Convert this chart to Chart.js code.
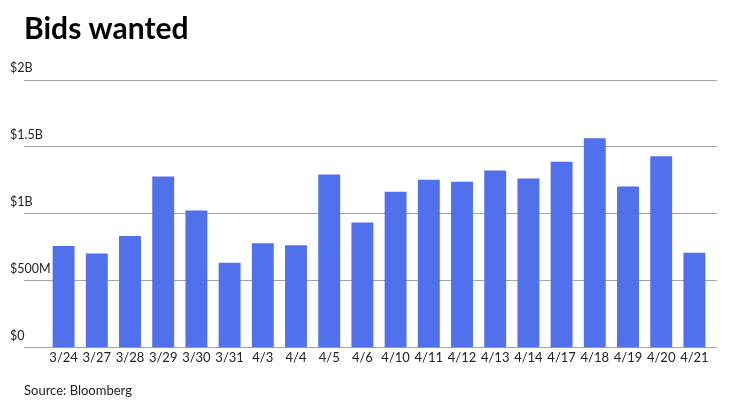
<!DOCTYPE html>
<html>
<head>
<meta charset="utf-8">
<script src="https://cdn.jsdelivr.net/npm/chart.js@4"></script>
<style>
  body { margin: 0; background: #fff; }
</style>
</head>
<body>
<canvas id="bidsChart" width="740" height="416"></canvas>
<script>
    // Daily bids wanted, in millions of dollars
    var dates = ['3/24', '3/27', '3/28', '3/29', '3/30', '3/31', '4/3', '4/4', '4/5', '4/6',
                 '4/10', '4/11', '4/12', '4/13', '4/14', '4/17', '4/18', '4/19', '4/20', '4/21'];
    var bidsWanted = [760, 705, 835, 1280, 1025, 635, 780, 765, 1295, 935,
                      1165, 1255, 1240, 1325, 1265, 1390, 1565, 1205, 1430, 710];
    var yTicks = { 0: '$0', 500: '$500M', 1000: '$1B', 1500: '$1.5B', 2000: '$2B' };

    var gridColor = '#a3a3a3';
    var textColor = '#222222';

    Chart.defaults.font.family = 'Lato, "Open Sans", sans-serif';
    Chart.defaults.color = textColor;

    var ctx = document.getElementById('bidsChart').getContext('2d');

    var bidsChart = new Chart(ctx, {
        type: 'bar',
        data: {
            labels: dates,
            datasets: [{
                label: 'Bids wanted',
                data: bidsWanted,
                backgroundColor: '#5070ec',
                borderWidth: 0,
                categoryPercentage: 1,
                barPercentage: 0.66
            }]
        },
        options: {
            responsive: false,
            animation: false,
            layout: {
                padding: { left: 24, right: 23, top: 0, bottom: 0 }
            },
            plugins: {
                legend: { display: false },
                tooltip: { enabled: false },
                title: {
                    display: true,
                    text: 'Bids wanted',
                    align: 'start',
                    color: '#000',
                    font: { size: 30, weight: 'bold' },
                    padding: { top: 11, bottom: 33 }
                },
                subtitle: {
                    display: true,
                    position: 'bottom',
                    text: 'Source: Bloomberg',
                    align: 'start',
                    color: textColor,
                    font: { size: 13 },
                    padding: { top: 16, bottom: 17 }
                }
            },
            scales: {
                x: {
                    grid: { display: false, drawTicks: false },
                    border: { display: false },
                    ticks: {
                        font: { size: 13 },
                        padding: 2,
                        maxRotation: 0,
                        autoSkip: false
                    }
                },
                y: {
                    min: 0,
                    max: 2000,
                    border: { display: false },
                    grid: { color: gridColor, tickColor: gridColor, tickLength: 23 },
                    ticks: {
                        stepSize: 500,
                        mirror: true,
                        padding: -37,
                        labelOffset: -12,
                        font: { size: 12.5 },
                        callback: function (value) { return yTicks[value]; }
                    },
                    afterFit: function (scale) { scale.width = 23; }
                },
                yRight: {
                    position: 'right',
                    min: 0,
                    max: 2000,
                    border: { display: false },
                    grid: { drawOnChartArea: false, color: gridColor, tickLength: 6 },
                    ticks: { display: false, stepSize: 500 }
                }
            }
        }
    });
</script>
</body>
</html>
